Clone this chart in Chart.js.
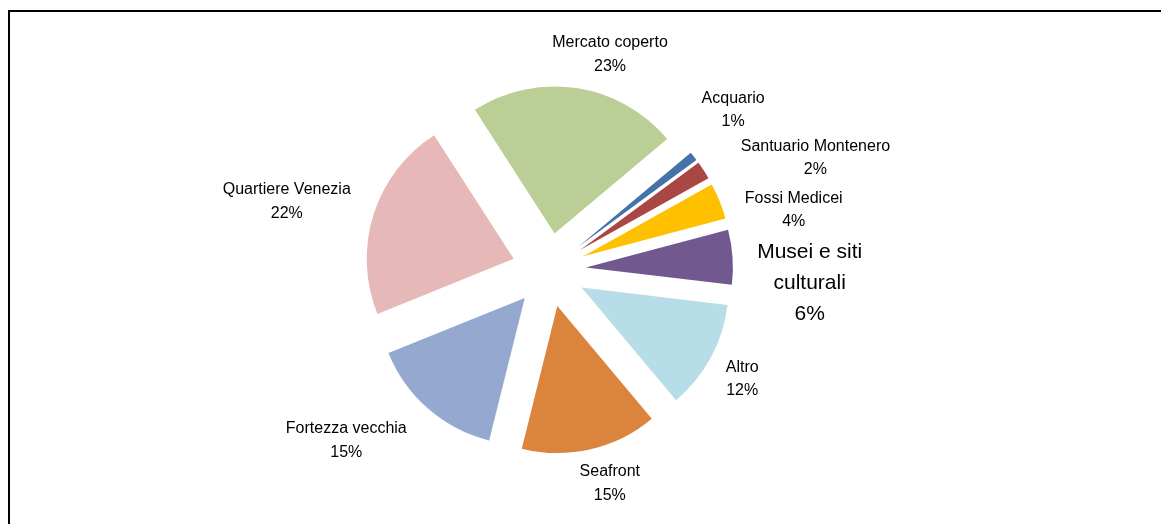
<!DOCTYPE html>
<html>
<head>
<meta charset="utf-8">
<script src="https://cdn.jsdelivr.net/npm/chart.js@4"></script>
<style>
  body { margin: 0; background: #fff; }
  #wrap { position: relative; width: 1161px; height: 524px; overflow: hidden; }
  #frame { position: absolute; left: 8px; top: 10px; width: 1200px; height: 600px;
           border-top: 2px solid #000; border-left: 2px solid #000; }
  #myChart { position: absolute; left: 0; top: 0; }
</style>
</head>
<body>
<div id="wrap">
  <div id="frame"></div>
  <canvas id="myChart" width="1161" height="524"></canvas>
</div>
<script>
// data, clockwise from the Acquario slice
let categories = ['Acquario', 'Santuario Montenero', 'Fossi Medicei', 'Musei e siti culturali', 'Altro',
  'Seafront', 'Fortezza vecchia', 'Quartiere Venezia', 'Mercato coperto'];
let shares = [1, 2, 4, 6, 12, 15, 15, 22, 23];
let sliceColors = ['#4572A7', '#AA4643', '#FFC000', '#71588F', '#B7DEE8',
  '#DB843D', '#95A9D0', '#E6B9B8', '#BBCE96'];

// how far every slice is pulled out of the pie (px)
let explode = 37;

// where each label sits, relative to the pie centre: [angle in degrees from 12 o'clock, distance]
let labelPlacement = [[49, 244], [67.2, 289], [76.2, 252], [92.9, 261], [119.5, 222],
  [164.1, 222], [229.9, 265], [284.6, 271], [15.8, 224]];
// font size and wrap width for each label
let labelSize = [16, 16, 16, 21, 16, 16, 16, 16, 16];
let labelWrap = [999, 999, 999, 115, 999, 999, 999, 999, 999];

function wrapText(ctx, text, maxWidth) {
  let words = text.split(' ');
  let lines = [];
  let line = '';
  for (let i = 0; i < words.length; i++) {
    let test = line ? line + ' ' + words[i] : words[i];
    if (line && ctx.measureText(test).width > maxWidth) {
      lines.push(line);
      line = words[i];
    } else {
      line = test;
    }
  }
  lines.push(line);
  return lines;
}

// chart.js' own offset also shrinks thin slices, so pull the arcs out by hand
let explodedArcs = {
  id: 'explodedArcs',
  beforeDatasetDraw(chart, args) {
    let ctx = chart.ctx;
    args.meta.data.forEach(function (arc) {
      let mid = (arc.startAngle + arc.endAngle) / 2;
      ctx.save();
      ctx.translate(Math.cos(mid) * explode, Math.sin(mid) * explode);
      arc.draw(ctx);
      ctx.restore();
    });
    return false;
  }
};

// draws the name + percentage next to every slice
let sliceLabels = {
  id: 'sliceLabels',
  afterDraw(chart) {
    let ctx = chart.ctx;
    let meta = chart.getDatasetMeta(0);
    let values = chart.data.datasets[0].data;
    let total = values.reduce((a, b) => a + b, 0);
    ctx.save();
    ctx.fillStyle = '#000';
    ctx.textAlign = 'center';
    ctx.textBaseline = 'middle';
    meta.data.forEach(function (arc, i) {
      let size = labelSize[i];
      ctx.font = size + 'px "Liberation Sans", Arial, sans-serif';
      let lines = wrapText(ctx, chart.data.labels[i], labelWrap[i]);
      lines.push(Math.round(values[i] / total * 100) + '%');
      let a = labelPlacement[i][0] * Math.PI / 180;
      let d = labelPlacement[i][1];
      let cx = arc.x + Math.sin(a) * d;
      let cy = arc.y - Math.cos(a) * d;
      let lh = size * 1.46;
      let y0 = cy - (lines.length - 1) * lh / 2;
      lines.forEach(function (t, k) {
        ctx.fillText(t, cx, y0 + k * lh);
      });
    });
    ctx.restore();
  }
};

let ctx = document.getElementById('myChart').getContext('2d');
let myChart = new Chart(ctx, {
  type: 'pie',
  data: {
    labels: categories,
    datasets: [{
      data: shares,
      backgroundColor: sliceColors,
      borderWidth: 0
    }]
  },
  options: {
    responsive: false,
    animation: false,
    rotation: 50,
    radius: 147,
    layout: { padding: { left: 0, right: 63, top: 16, bottom: 0 } },
    plugins: {
      legend: { display: false },
      tooltip: { enabled: false }
    }
  },
  plugins: [explodedArcs, sliceLabels]
});
</script>
</body>
</html>
